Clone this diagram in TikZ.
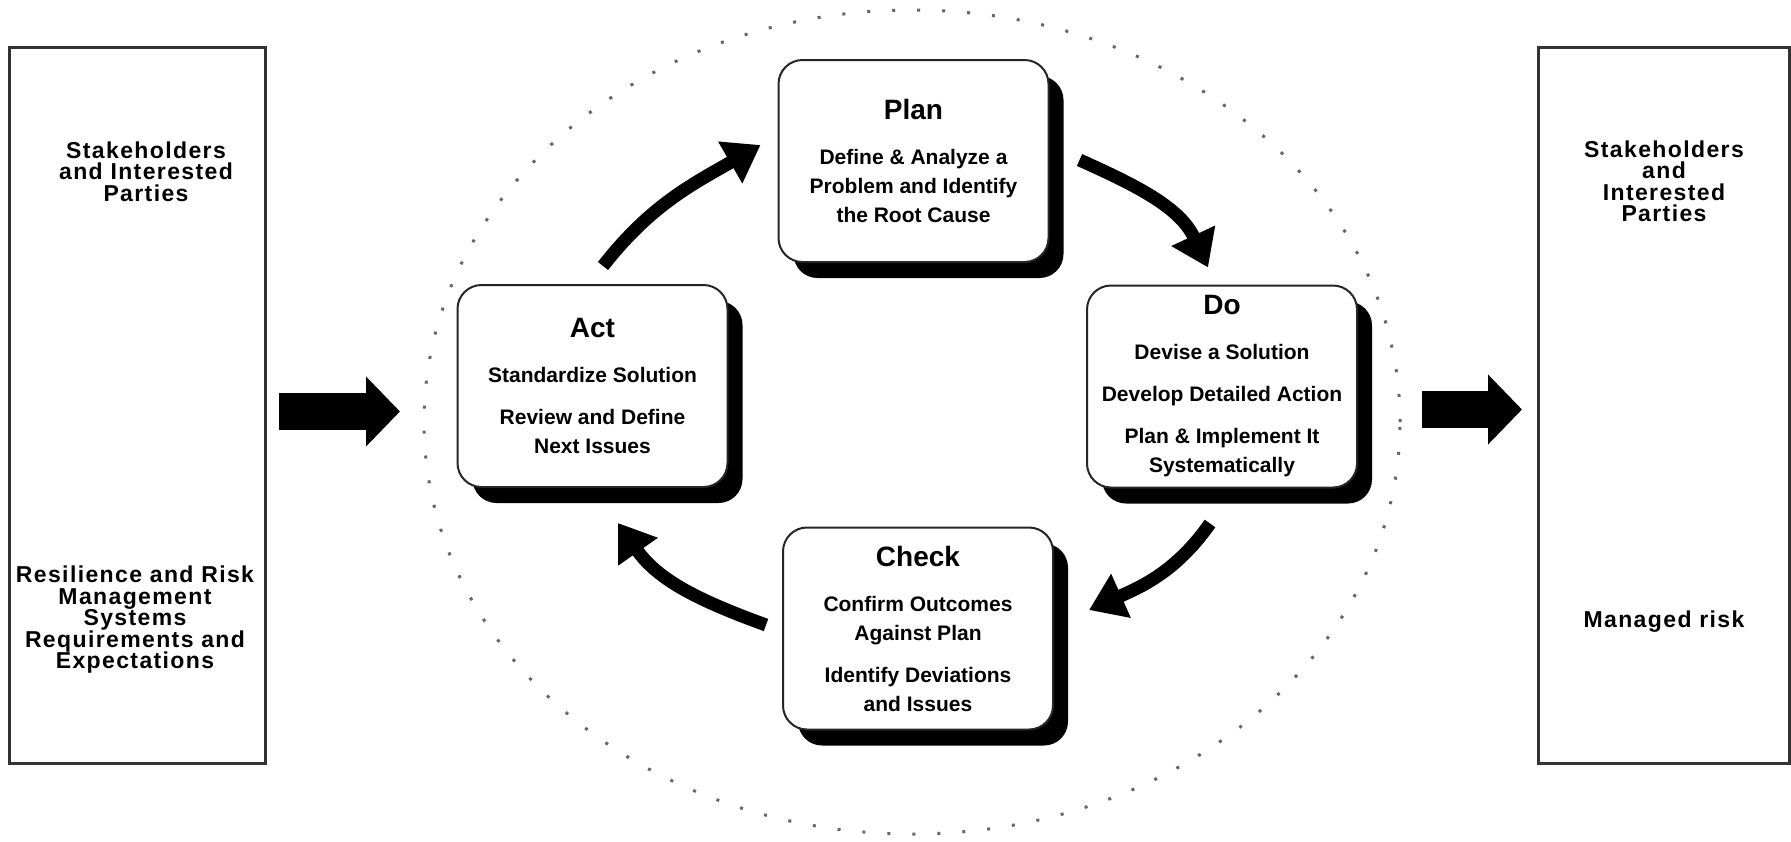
\documentclass[tikz,border=0pt]{standalone}
\usepackage{fontspec}
\setmainfont{Liberation Sans}
\newfontfamily\widefont[LetterSpace=6]{Liberation Sans}
\usetikzlibrary{arrows.meta,shadows}

\tikzset{
	stage/.style={draw=black!85, line width=1pt, rounded corners=12pt, fill=white,
		minimum width=135pt, minimum height=101pt, align=center,
		font=\fontsize{10.5}{14.5}\selectfont\bfseries,
		drop shadow={shadow xshift=7.5pt, shadow yshift=-8pt, fill=black, opacity=1}},
	party/.style={draw=black!80, line width=1.5pt, minimum height=358pt},
	partytext/.style={align=center, font=\widefont\bfseries\fontsize{11.5}{10.75}\selectfont},
	looparrow/.style={line width=6.5pt, -{Triangle[length=17.5pt,width=23pt]}},
	bigarrow/.style={line width=18.5pt, -{Triangle[length=17pt,width=34pt]}},
	ring/.style={draw=black!60, line width=1.5pt, dash pattern=on 1.5pt off 11pt}
}
\newcommand{\stagetitle}[1]{{\fontsize{14}{16}\selectfont #1}}

\begin{document}
\begin{tikzpicture}[x=0.5pt, y=0.5pt]
	\useasboundingbox (0,0) rectangle (1791,-841);

	% 点線の輪
	\draw[ring] (912,-422) ellipse [x radius=244pt, y radius=206pt];

	\coordinate(P)at(913.5,-161);
	\coordinate(D)at(1222,-386.5);
	\coordinate(C)at(918,-628.5);
	\coordinate(A)at(592.5,-386);

	\node[stage](plan)at(P){\stagetitle{Plan}\\[8pt]Define \& Analyze a\\Problem and Identify\\the Root Cause};
	\node[stage](do)at(D){\stagetitle{Do}\\[8pt]Devise a Solution\\[6.5pt]Develop Detailed Action\\[6.5pt]Plan \& Implement It\\Systematically};
	\node[stage](check)at(C){\stagetitle{Check}\\[8pt]Confirm Outcomes\\Against Plan\\[6.5pt]Identify Deviations\\and Issues};
	\node[stage](act)at(A){\stagetitle{Act}\\[8pt]Standardize Solution\\[6.5pt]Review and Define\\Next Issues};

	% 矢印
	\draw[looparrow]([shift={(10.5,18)}]act.north) to[out=52, in=210] ([shift={(-17,16)}]plan.west);
	\draw[looparrow]([shift={(30,1)}]plan.east) to[out=-24, in=115] ([shift={(-14,17)}]do.north);
	\draw[looparrow]([shift={(-12,-35)}]do.south) to[out=-125, in=24] ([shift={(35,18.5)}]check.east);
	\draw[looparrow]([shift={(-16,3.5)}]check.west) to[out=160, in=-55] ([shift={(25.5,-35)}]act.south);

	% 左右の箱
	\node[party, minimum width=128pt](inputs)at(137,-405){};
	\node[party, minimum width=125.5pt](outputs)at(1663.5,-405){};

	\node[partytext](stake)at(146,-171.5){Stakeholders\\and Interested\\Parties};
	\node[partytext](needs)at(135,-620){Resilience and Risk\\Management\\Systems\\Requirements and\\Expectations};
	\node[partytext](parties)at(1664,-181.5){Stakeholders\\and\\Interested\\Parties};
	\node[partytext](risk)at(1664,-622){Managed risk};

	% 太い矢印
	\coordinate(in1)at(279,-411.5);
	\coordinate(in2)at(400,-411.5);
	\coordinate(out1)at(1422,-409.5);
	\coordinate(out2)at(1522,-409.5);
	\draw[bigarrow](in1)--(in2);
	\draw[bigarrow](out1)--(out2);
\end{tikzpicture}
\end{document}
